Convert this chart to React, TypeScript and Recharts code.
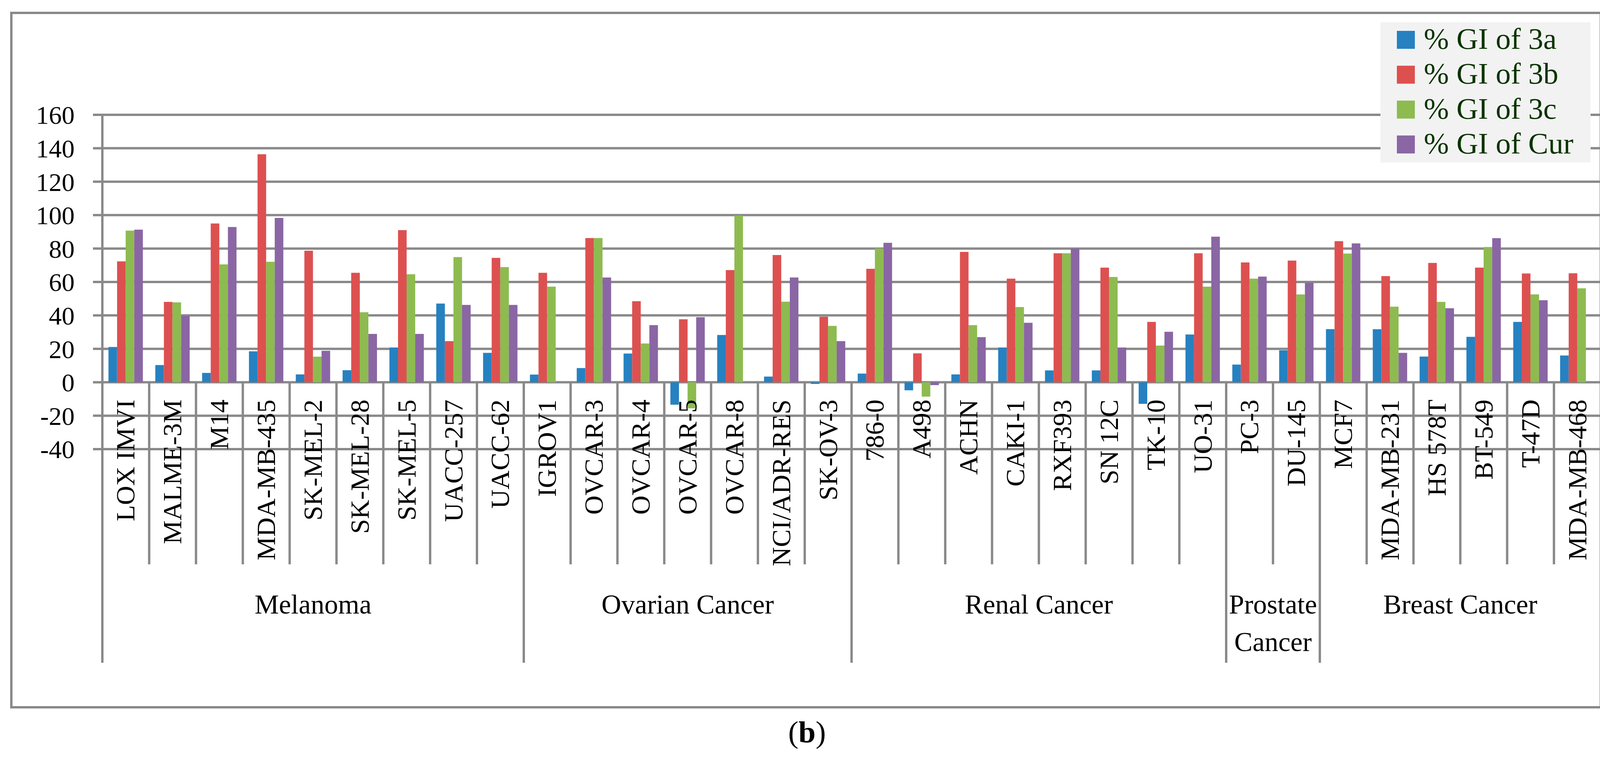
import React from 'react';
import { BarChart, Bar, XAxis, YAxis, CartesianGrid, Legend } from 'recharts';

// ---------- data ----------
const categories = [
  'LOX IMVI', 'MALME-3M', 'M14', 'MDA-MB-435', 'SK-MEL-2', 'SK-MEL-28', 'SK-MEL-5', 'UACC-257', 'UACC-62',
  'IGROV1', 'OVCAR-3', 'OVCAR-4', 'OVCAR-5', 'OVCAR-8', 'NCI/ADR-RES', 'SK-OV-3',
  '786-0', 'A498', 'ACHN', 'CAKI-1', 'RXF393', 'SN 12C', 'TK-10', 'UO-31',
  'PC-3', 'DU-145',
  'MCF7', 'MDA-MB-231', 'HS 578T', 'BT-549', 'T-47D', 'MDA-MB-468',
];

const gi3a = [
  21.1, 10.3, 5.6, 18.5, 4.7, 7.2, 20.8, 47.1, 17.6,
  4.6, 8.5, 17.2, -13.4, 28.3, 3.4, -1.0,
  5.2, -4.8, 4.7, 20.8, 7.1, 7.1, -12.9, 28.6,
  10.6, 19.1,
  31.8, 31.7, 15.4, 27.2, 36.1, 16.0,
];
const gi3b = [
  72.3, 48.1, 95.0, 136.4, 78.7, 65.5, 91.0, 24.6, 74.4,
  65.5, 86.3, 48.5, 37.7, 67.1, 76.1, 39.2,
  67.9, 17.3, 78.0, 62.0, 77.2, 68.6, 36.1, 77.2,
  71.7, 72.8,
  84.4, 63.5, 71.4, 68.6, 65.1, 65.2,
];
const gi3c = [
  90.7, 47.8, 70.5, 72.1, 15.3, 41.9, 64.6, 74.9, 68.9,
  57.2, 86.3, 23.2, -15.6, 99.7, 48.2, 33.7,
  80.0, -8.6, 34.2, 45.0, 77.2, 63.0, 22.0, 57.2,
  62.0, 52.5,
  77.0, 45.2, 48.1, 80.9, 52.6, 56.2,
];
const giCur = [
  91.3, 39.7, 92.9, 98.3, 18.8, 28.9, 28.9, 46.3, 46.3,
  0, 62.7, 34.2, 38.9, 0, 62.7, 24.6,
  83.4, -1.7, 27.0, 35.6, 80.0, 20.8, 30.2, 87.1,
  63.2, 59.5,
  83.1, 17.6, 44.3, 86.2, 49.1, 0,
];

const seriesNames = ['% GI of 3a', '% GI of 3b', '% GI of 3c', '% GI of Cur'];
const seriesColors = ['#2681c1', '#dd5050', '#8dbb50', '#8a66a4'];

const groupLabels = [['Melanoma'], ['Ovarian Cancer'], ['Renal Cancer'], ['Prostate', 'Cancer'], ['Breast Cancer']];
const groupSizes = [9, 7, 8, 2, 6];

const yTicks = [-40, -20, 0, 20, 40, 60, 80, 100, 120, 140, 160];
const Y_MIN = -40;
const Y_MAX = 160;

const data = categories.map((name, i) => ({
  name,
  a: gi3a[i],
  b: gi3b[i],
  c: gi3c[i],
  cur: giCur[i],
}));

// ---------- layout ----------
const W = 4133;
const H = 1946;
const PLOT_L = 262;
const PLOT_R = 4098;
const PLOT_T = 294;
const PLOT_B = 1150;
const Y_AXIS_W = 200;
const X_AXIS_H = 40;
const GRID = '#898989';
const FONT = '"Liberation Serif", "Times New Roman", serif';

const ZERO_Y = PLOT_T + (Y_MAX / (Y_MAX - Y_MIN)) * (PLOT_B - PLOT_T);
const BAND = (PLOT_R - PLOT_L) / categories.length;
const LABEL_TOP = 1023;
const CAT_LINE_END = 1445;
const GROUP_LINE_END = 1697;
const GROUP_BASE = 1571;
const GROUP_LINE_GAP = 96;
const CAT_FONT = 68;

const groupStarts: number[] = [];
{
  let acc = 0;
  groupSizes.forEach((s) => {
    groupStarts.push(acc);
    acc += s;
  });
}

function CategoryTick(props: any) {
  const { x, index, payload } = props;
  const left = x - BAND / 2;
  const gi = groupStarts.indexOf(index);
  return (
    <g>
      <line
        x1={left}
        x2={left}
        y1={ZERO_Y}
        y2={gi >= 0 ? GROUP_LINE_END : CAT_LINE_END}
        stroke={GRID}
        strokeWidth={6}
      />
      <text
        transform={`translate(${x + 22.5},${LABEL_TOP}) rotate(-90)`}
        textAnchor="end"
        fontFamily={FONT}
        fontSize={CAT_FONT}
        fill="#000"
      >
        {payload.value}
      </text>
      {gi >= 0 &&
        groupLabels[gi].map((line, k) => (
          <text
            key={k}
            x={left + (groupSizes[gi] * BAND) / 2}
            y={GROUP_BASE + k * GROUP_LINE_GAP}
            textAnchor="middle"
            fontFamily={FONT}
            fontSize={70}
            fill="#000"
          >
            {line}
          </text>
        ))}
    </g>
  );
}

const LEG_W = 538;
const LEG_H = 359;

function LegendBox(props: any) {
  const payload = props.payload || [];
  return (
    <svg width={LEG_W} height={LEG_H} style={{ display: 'block' }}>
      <rect x={0} y={0} width={LEG_W} height={LEG_H} fill="#f2f2f2" />
      {payload.map((p: any, i: number) => (
        <g key={i}>
          <rect x={42} y={22 + i * 89.3} width={46} height={46} fill={p.color} />
          <text x={111} y={68 + i * 89.3} fontFamily={FONT} fontSize={77} fill="#0a3300">
            {p.value}
          </text>
        </g>
      ))}
    </svg>
  );
}

export default function App() {
  return (
    <div style={{ position: 'absolute', left: 0, top: 0, width: W, height: H, background: '#fff' }}>
      <div
        style={{
          position: 'absolute',
          left: 26,
          top: 30,
          width: 4075,
          height: 1784,
          border: `6px solid ${GRID}`,
          boxSizing: 'border-box',
        }}
      />
      <div style={{ position: 'absolute', left: 0, top: 0 }}>
        <BarChart
          width={W}
          height={H}
          data={data}
          margin={{ top: PLOT_T, right: W - PLOT_R, bottom: H - PLOT_B - X_AXIS_H, left: PLOT_L - Y_AXIS_W }}
          barCategoryGap="13.1%"
          barGap={0}
        >
          <CartesianGrid horizontal vertical={false} stroke={GRID} strokeWidth={6} />
          <XAxis
            dataKey="name"
            height={X_AXIS_H}
            interval={0}
            axisLine={false}
            tickLine={false}
            tickSize={0}
            tickMargin={0}
            tick={<CategoryTick />}
          />
          <YAxis
            width={Y_AXIS_W}
            domain={[Y_MIN, Y_MAX]}
            ticks={yTicks}
            interval={0}
            allowDataOverflow
            axisLine={{ stroke: GRID, strokeWidth: 6 }}
            tickLine={{ stroke: GRID, strokeWidth: 6 }}
            tickSize={24}
            tickMargin={47}
            tick={{ fontSize: 66, fontFamily: FONT, fill: '#000' }}
          />
          <Legend
            layout="vertical"
            align="center"
            verticalAlign="middle"
            content={<LegendBox />}
            wrapperStyle={{ left: 3534, top: 57, width: LEG_W, height: LEG_H }}
          />
          <Bar dataKey="a" name={seriesNames[0]} fill={seriesColors[0]} isAnimationActive={false} />
          <Bar dataKey="b" name={seriesNames[1]} fill={seriesColors[1]} isAnimationActive={false} />
          <Bar dataKey="c" name={seriesNames[2]} fill={seriesColors[2]} isAnimationActive={false} />
          <Bar dataKey="cur" name={seriesNames[3]} fill={seriesColors[3]} isAnimationActive={false} />
        </BarChart>
      </div>
      <svg
        width={W}
        height={H}
        style={{ position: 'absolute', left: 0, top: 0, pointerEvents: 'none' }}
      >
        <text x={2066} y={1901} textAnchor="middle" fontFamily={FONT} fontSize={79} fill="#000">
          (<tspan fontWeight="bold">b</tspan>)
        </text>
      </svg>
    </div>
  );
}
